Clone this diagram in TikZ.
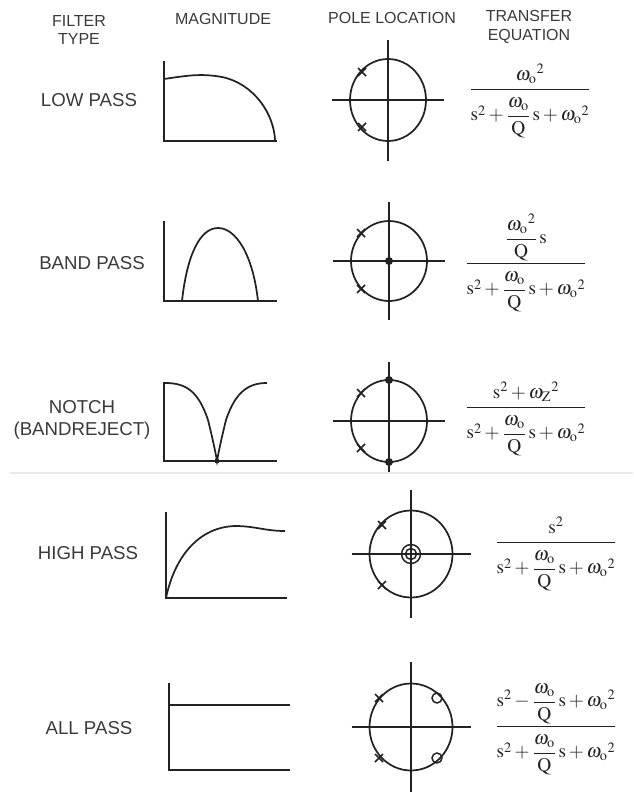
\documentclass[tikz,border=0pt]{standalone}
\usepackage{amsmath}
\usepackage{mathptmx}
\usepackage{fontspec}
\setmainfont{Liberation Serif}
\setsansfont{Liberation Sans}
\usetikzlibrary{positioning}
\definecolor{cInk}{HTML}{222222}
\definecolor{cText}{HTML}{3A3A3A}
\newcommand{\omo}{\omega_{\mathrm{o}}}
\newcommand{\dnm}{\rule{0pt}{1.5em}\mathrm{s}^{2}+\dfrac{\omo}{\mathrm{Q}}\,\mathrm{s}+{\omo}^{2}}
\newcommand{\eqnbox}[1]{$\displaystyle #1$}
\tikzset{
  hdr/.style={font=\sffamily\fontsize{12}{14}\selectfont,align=center,text=cText,inner sep=0pt},
  ftype/.style={font=\sffamily\fontsize{14}{17}\selectfont,align=center,text=cText,inner sep=0pt},
  eqn/.style={font=\fontsize{14.5}{17}\selectfont,text=cInk,inner sep=0pt,anchor=base},
  ax/.style={draw=cInk,line width=2pt},
  crv/.style={draw=cInk,line width=1.3pt},
  unit/.style={draw=cInk,line width=1.3pt},
  polex/.style={draw=cInk,line width=1.1pt},
  zdot/.style={fill=cInk},
  zring/.style={draw=cInk,line width=1.1pt},
}

\begin{document}
\begin{tikzpicture}[x=0.75pt,y=-0.75pt]
  \useasboundingbox (0,0) rectangle (633,792);
  % column headings
  \node[hdr] (hType) at (79,30) {FILTER\\TYPE};
  \node[hdr] (hMag) at (223,19) {MAGNITUDE};
  \node[hdr] (hPole) at (392,18) {POLE LOCATION};
  \node[hdr] (hEq) at (529,27) {TRANSFER\\EQUATION};

  % filter types
  \node[ftype] (tLP) at (89,100) {LOW PASS};
  \node[ftype] (tBP) at (92,263) {BAND PASS};
  \node[ftype] (tNT) at (82,420) {NOTCH\\(BANDREJECT)};
  \node[ftype] (tHP) at (88,553) {HIGH PASS};
  \node[ftype] (tAP) at (89,728) {ALL PASS};

  % magnitude plots
  \draw[ax] (164,61) -- (164,141) -- (277,141);
  \draw[crv] (164,79) .. controls (185,76) and (200,73) .. (222,77)
    .. controls (255,84) and (274,115) .. (275,140);
  \draw[ax] (164,221) -- (164,301) -- (277,301);
  \draw[crv] (182,301) .. controls (187,255) and (200,228) .. (218,228)
    .. controls (236,228) and (253,255) .. (258,301);
  \draw[ax] (164,382) -- (164,461) -- (277,461);
  \draw[crv] (165,383) .. controls (185,383) and (198,390) .. (208,420)
    .. controls (213,440) and (216,455) .. (217,461)
    .. controls (218,455) and (221,440) .. (226,420)
    .. controls (236,390) and (250,383) .. (267,383);
  \fill[zdot] (217,461) circle (2.5);
  \draw[ax] (166,512) -- (166,598) -- (287,598);
  \draw[crv] (166,598) .. controls (175,555) and (200,527) .. (235,526)
    .. controls (255,526) and (265,531) .. (285,531);
  \draw[ax] (169,683) -- (169,770) -- (290,770);
  \draw[ax] (169,705) -- (290,705);

  % pole locations
  \foreach \cx/\cy/\rx/\ry in {388/100/38/41,389/261/38/40,389/421/38/41,411/554/41.5/43.5,411/727/41.5/43.5}{
    \draw[unit] (\cx,\cy) ellipse [x radius=\rx,y radius=\ry];
    \draw[ax] (\cx-\rx-18,\cy) -- (\cx+\rx+18,\cy);
  }
  \draw[ax] (388,40) -- (388,161);
  \draw[ax] (389,202) -- (389,320);
  \draw[ax] (389,362) -- (389,474);
  \draw[ax] (411,490) -- (411,618);
  \draw[ax] (411,662) -- (411,792);
  \foreach \px/\py in {362/72,362/127,361/233,361/289,361/393,361/448,382/525,382/585,379/698,379/758}
    \draw[polex] (\px,\py) +(-4,-4) -- +(4,4) +(-4,4) -- +(4,-4);
  \fill[zdot] (389,261) circle (4);
  \fill[zdot] (389,380) circle (4);
  \fill[zdot] (389,462) circle (4);
  \draw[zring] (411,554) circle (9.5) (411,554) circle (5.5);
  \draw[zring] (437,698) circle (5) (437,758) circle (5);

  % transfer equations (node base sits one axis height below the bar)
  \node[eqn] (eLP) at (530,94) {\eqnbox{\frac{{\omo}^{2}}{\dnm}}};
  \node[eqn] (eBP) at (526,268) {\eqnbox{\frac{\dfrac{{\omo}^{2}}{\mathrm{Q}}\,\mathrm{s}}{\dnm}}};
  \node[eqn] (eNT) at (526,412) {\eqnbox{\frac{\mathrm{s}^{2}+{\omega_{\mathrm{Z}}}^{2}}{\dnm}}};
  \node[eqn] (eHP) at (556,547) {\eqnbox{\frac{\mathrm{s}^{2}}{\dnm}}};
  \node[eqn] (eAP) at (556,731) {\eqnbox{\frac{\mathrm{s}^{2}-\dfrac{\omo}{\mathrm{Q}}\,\mathrm{s}+{\omo}^{2}}{\dnm}}};

  % faint seam
  \draw[black!8,line width=0.8pt] (10,473) -- (633,473);
\end{tikzpicture}
\end{document}
